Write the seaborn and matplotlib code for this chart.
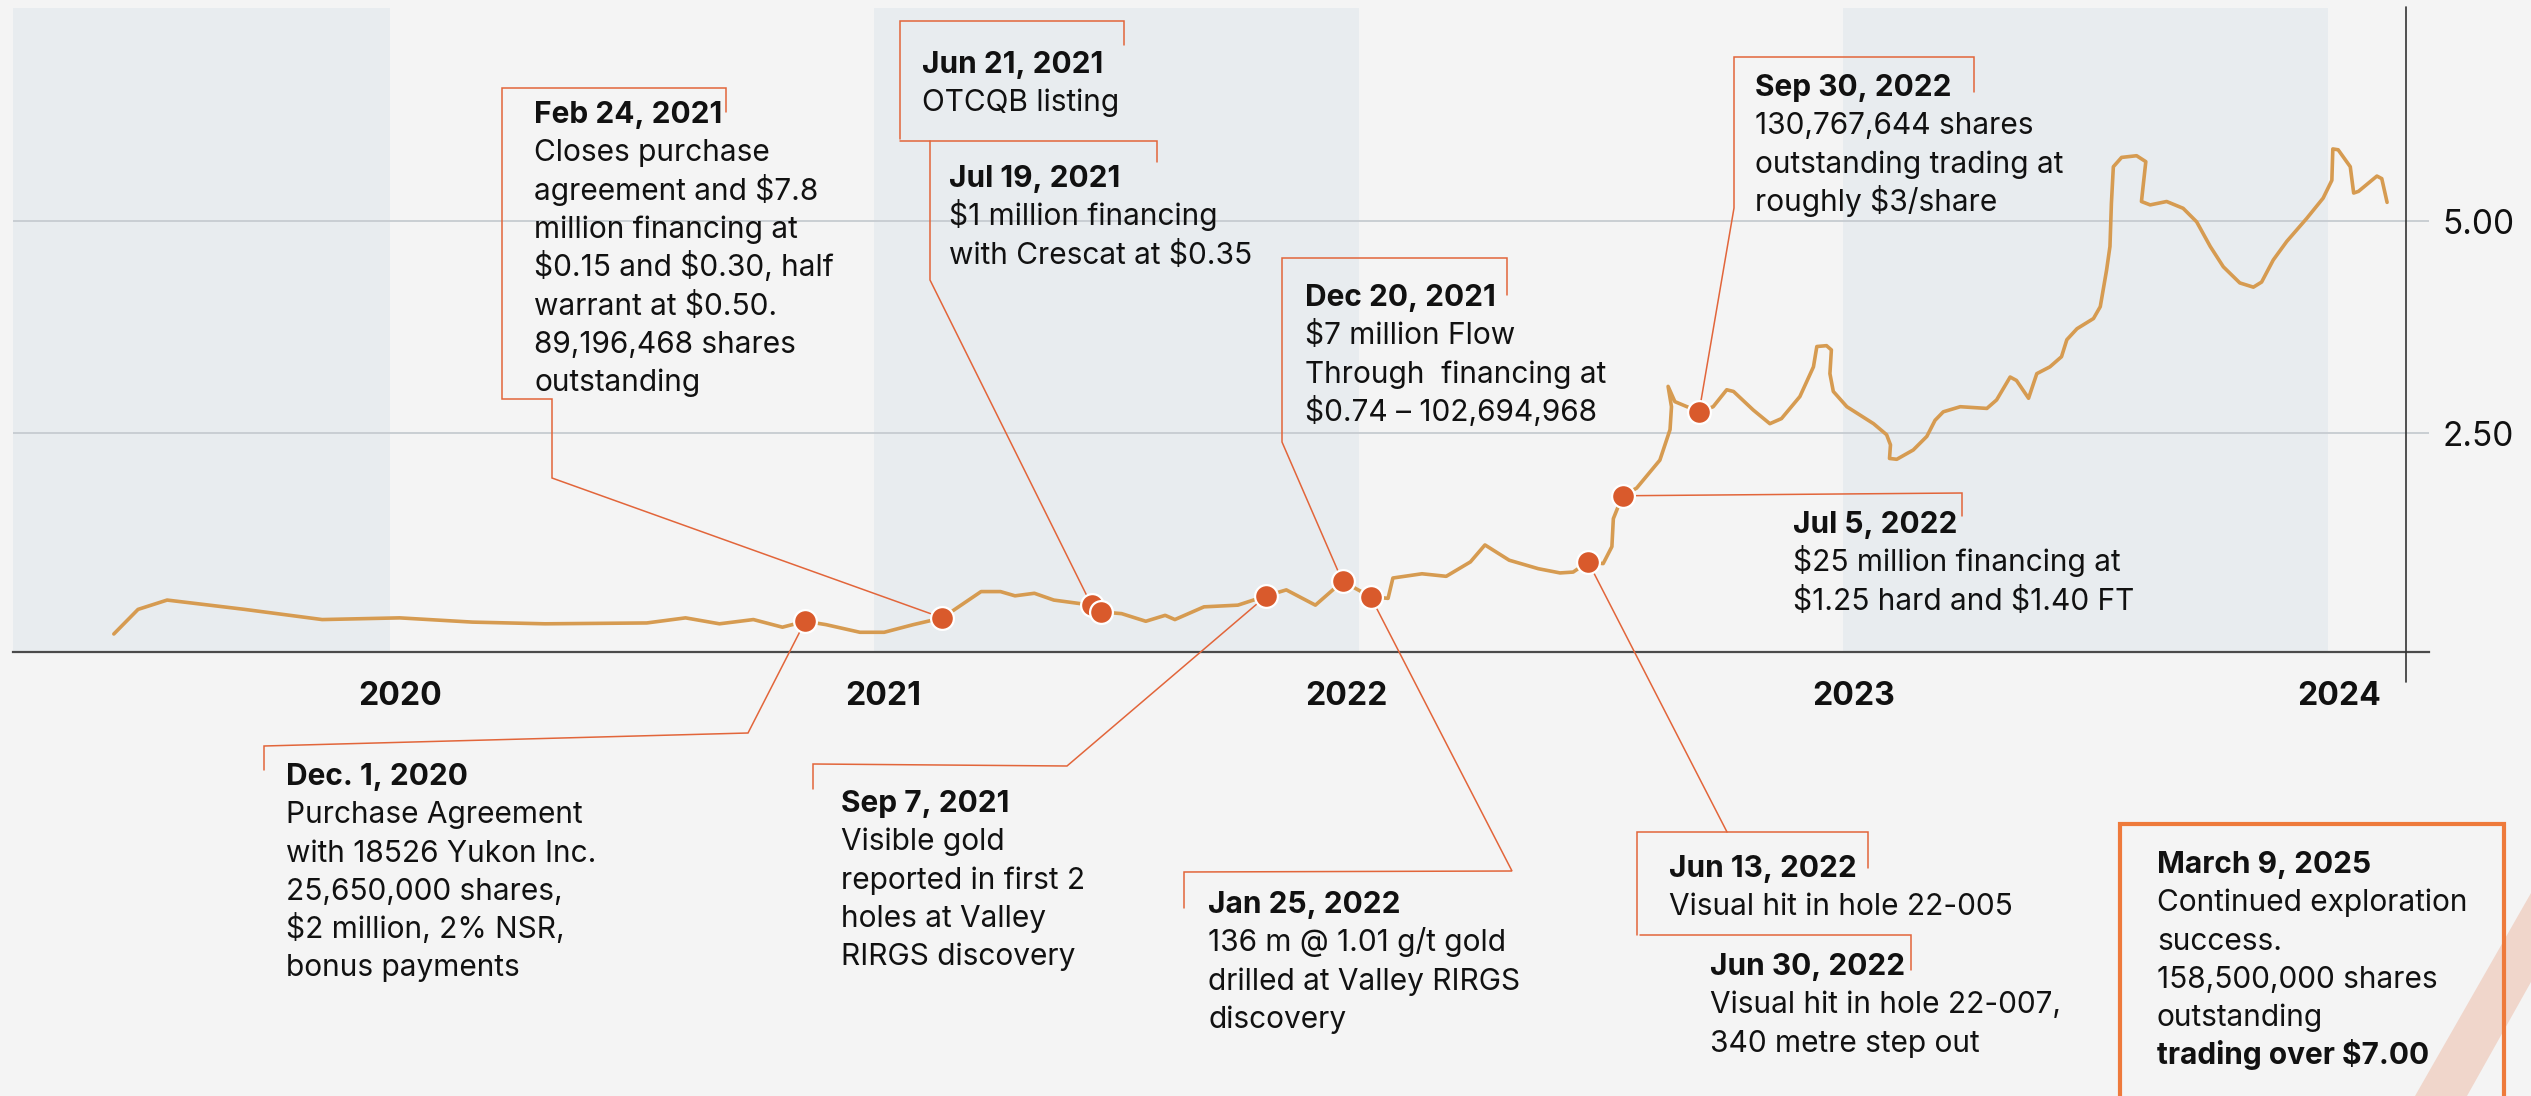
import numpy as np
import pandas as pd
import matplotlib.pyplot as plt
import seaborn as sns
from matplotlib.patches import Polygon, Rectangle
from matplotlib.transforms import ScaledTranslation

W, H = 2531, 1096

# share price trace (year fraction, price $)
price_year = [2019.43, 2019.48, 2019.54, 2019.70, 2019.86, 2020.02, 2020.17, 2020.32, 2020.53,
              2020.61, 2020.68, 2020.75, 2020.81, 2020.857, 2020.90, 2020.97, 2021.02, 2021.08,
              2021.14, 2021.22, 2021.26, 2021.29, 2021.33, 2021.37, 2021.448, 2021.468, 2021.51,
              2021.56, 2021.60, 2021.62, 2021.68, 2021.75, 2021.809, 2021.85, 2021.91, 2021.966,
              2022.024, 2022.06, 2022.07, 2022.13, 2022.18, 2022.23, 2022.26, 2022.31, 2022.37,
              2022.415, 2022.442, 2022.473, 2022.504, 2022.522, 2022.525, 2022.544, 2022.573,
              2022.621, 2022.642, 2022.645, 2022.638, 2022.652, 2022.702, 2022.731, 2022.759,
              2022.773, 2022.814, 2022.848, 2022.872, 2022.910, 2022.938, 2022.945, 2022.965,
              2022.975, 2022.972, 2022.979, 2023.007, 2023.062, 2023.089, 2023.097, 2023.095,
              2023.110, 2023.144, 2023.172, 2023.189, 2023.206, 2023.241, 2023.296, 2023.316,
              2023.344, 2023.357, 2023.382, 2023.399, 2023.426, 2023.450, 2023.461, 2023.482,
              2023.516, 2023.530, 2023.543, 2023.550, 2023.553, 2023.557, 2023.574, 2023.605,
              2023.624, 2023.619, 2023.615, 2023.633, 2023.667, 2023.701, 2023.729, 2023.757,
              2023.784, 2023.818, 2023.846, 2023.863, 2023.887, 2023.915, 2023.956, 2023.990,
              2024.008, 2024.010, 2024.021, 2024.046, 2024.053, 2024.063, 2024.101, 2024.111,
              2024.122]
price_usd = [0.13, 0.42, 0.53, 0.42, 0.30, 0.32, 0.27, 0.25, 0.26,
             0.32, 0.25, 0.30, 0.21, 0.28, 0.24, 0.15, 0.15, 0.24,
             0.32, 0.63, 0.63, 0.58, 0.61, 0.53, 0.47, 0.39, 0.37,
             0.28, 0.35, 0.30, 0.45, 0.47, 0.58, 0.65, 0.47, 0.75,
             0.57, 0.55, 0.79, 0.84, 0.81, 0.98, 1.18, 1.00, 0.90,
             0.85, 0.86, 0.98, 0.96, 1.16, 1.49, 1.76, 1.85,
             2.18, 2.54, 2.81, 3.05, 2.87, 2.75, 2.81, 3.01,
             2.99, 2.77, 2.61, 2.67, 2.93, 3.28, 3.52, 3.53,
             3.48, 3.20, 2.99, 2.81, 2.61, 2.48, 2.36, 2.20,
             2.19, 2.30, 2.46, 2.65, 2.75, 2.81, 2.79, 2.89,
             3.16, 3.12, 2.91, 3.20, 3.28, 3.40, 3.60, 3.73,
             3.85, 3.99, 4.42, 4.70, 5.21, 5.64, 5.75, 5.77,
             5.70, 5.44, 5.23, 5.19, 5.23, 5.15, 4.99, 4.70,
             4.46, 4.27, 4.22, 4.28, 4.54, 4.76, 5.03, 5.27,
             5.48, 5.85, 5.84, 5.64, 5.33, 5.35, 5.53, 5.50,
             5.22]

# events marked with a dot on the trace
event_title = ["Dec. 1, 2020", "Feb 24, 2021", "Jun 21, 2021", "Jul 19, 2021", "Sep 7, 2021",
               "Dec 20, 2021", "Jan 25, 2022", "Jun 13, 2022", "Jul 5, 2022", "Sep 30, 2022"]
event_year = [2020.857, 2021.14, 2021.448, 2021.468, 2021.809, 2021.966, 2022.024, 2022.473,
              2022.544, 2022.702]
event_price = [0.28, 0.32, 0.47, 0.39, 0.58, 0.75, 0.57, 0.98, 1.76, 2.75]

notes = {
    "Dec. 1, 2020": ["Purchase Agreement", "with 18526 Yukon Inc.", "25,650,000 shares,",
                     "$2 million, 2% NSR,", "bonus payments"],
    "Feb 24, 2021": ["Closes purchase", "agreement and $7.8", "million financing at",
                     "$0.15 and $0.30, half", "warrant at $0.50.", "89,196,468 shares",
                     "outstanding"],
    "Jun 21, 2021": ["OTCQB listing"],
    "Jul 19, 2021": ["$1 million financing", "with Crescat at $0.35"],
    "Sep 7, 2021": ["Visible gold", "reported in first 2", "holes at Valley", "RIRGS discovery"],
    "Dec 20, 2021": ["$7 million Flow", "Through  financing at", "$0.74 \u2013 102,694,968"],
    "Jan 25, 2022": ["136 m @ 1.01 g/t gold", "drilled at Valley RIRGS", "discovery"],
    "Jun 13, 2022": ["Visual hit in hole 22-005"],
    "Jun 30, 2022": ["Visual hit in hole 22-007,", "340 metre step out"],
    "Jul 5, 2022": ["$25 million financing at", "$1.25 hard and $1.40 FT"],
    "Sep 30, 2022": ["130,767,644 shares", "outstanding trading at", "roughly $3/share"],
    "March 9, 2025": ["Continued exploration", "success.", "158,500,000 shares", "outstanding",
                      "trading over $7.00"],
}

years = [2020, 2021, 2022, 2023, 2024]
half_years = [2019.5, 2020.5, 2021.5, 2022.5, 2023.5]
shaded = [(2019, 2020), (2021, 2022), (2023, 2024)]
price_ticks = [2.5, 5.0]
price_labels = ["2.50", "5.00"]

BG = "#f4f4f4"
BAND = "#e8ecef"
GOLD = "#d69b51"
DOT = "#d95a2c"
LEAD = "#e2653a"
INK = "#111111"
FS = 21.5
LS = 38.3

sns.set_style("white")
plt.rcParams["font.family"] = ["Inter", "DejaVu Sans"]

fig = plt.figure(figsize=(W / 100, H / 100), dpi=100, facecolor=BG)
ax = fig.add_axes([13 / W, (H - 652) / H, (2429 - 13) / W, (652 - 8) / H])
ax.set_facecolor(BG)
ax.set_xlim(2019.2219, 2024.2085)
ax.set_ylim(-0.0825, 7.512)

for a, b in shaded:
    ax.axvspan(a, b, color=BAND, lw=0, zorder=0.2)

ax.set_axisbelow(True)
ax.grid(axis="y", color="#c9ced3", lw=1.4)
ax.grid(axis="x", visible=False)

sns.lineplot(x=price_year, y=price_usd, ax=ax, sort=False, estimator=None, color=GOLD,
             lw=2.6, zorder=4, solid_joinstyle="round", solid_capstyle="round")

for s in ["top", "left", "right"]:
    ax.spines[s].set_visible(False)
ax.spines["bottom"].set_color("#4a4a4a")
ax.spines["bottom"].set_linewidth(1.6)

ax.set_xticks(years)
ax.set_xticklabels([str(y) for y in years], fontsize=23, fontweight="bold", color=INK)
ax.set_xticks(half_years, minor=True)
ax.tick_params(axis="x", which="major", direction="inout", length=20, width=2, color="#222222", pad=11)
ax.tick_params(axis="x", which="minor", direction="inout", length=14, width=1.2, color="#222222")
for lab, dx in zip(ax.get_xticklabels(), [10, 9, -13, 10, 11]):
    lab.set_transform(lab.get_transform() + ScaledTranslation(dx / 100, 0, fig.dpi_scale_trans))

ax.yaxis.tick_right()
ax.set_yticks(price_ticks)
ax.set_yticklabels(price_labels, fontsize=24, color=INK)
ax.tick_params(axis="y", length=0, pad=9.5)
ax.set_xlabel("")
ax.set_ylabel("")


def to_data(x, y):
    return ax.transData.inverted().transform((x, H - y))


# right hand price axis line
rx0, ry0 = to_data(2406, 7)
rx1, ry1 = to_data(2406, 682)
ax.plot([rx0, rx1], [ry0, ry1], color="#333333", lw=1.2, clip_on=False, zorder=3)


def leader(pts, dot=None, first=False):
    xy = [tuple(to_data(x, y)) for x, y in pts]
    if dot is not None:
        d = (event_year[dot], event_price[dot])
        xy = [d] + xy if first else xy + [d]
    xs, ys = zip(*xy)
    ax.plot(xs, ys, color=LEAD, lw=1.1, clip_on=False, zorder=3, solid_joinstyle="miter")


def label(x, y, title, bold_last=False):
    fig.text(x / W, 1 - y / H, title, fontsize=FS, fontweight="bold", color=INK,
             ha="left", va="baseline", parse_math=False, zorder=6)
    lines = notes[title]
    for i, s in enumerate(lines):
        w = "bold" if bold_last and i == len(lines) - 1 else "normal"
        fig.text(x / W, 1 - (y + LS * (i + 1)) / H, s, fontsize=FS, fontweight=w, color=INK,
                 ha="left", va="baseline", parse_math=False, zorder=6)


# leader lines (pixel layout), ending at the event dots
leader([(726, 112), (726, 88), (502, 88), (502, 399), (552, 399), (552, 478)], dot=1)
leader([(1124, 45), (1124, 21), (900, 21), (900, 139)])
leader([(930, 141), (930, 280)], dot=2)
leader([(900, 141), (1157, 141), (1157, 162)])
leader([(1507, 295), (1507, 258), (1282, 258), (1282, 442)], dot=5)
leader([(1974, 92), (1974, 57), (1734, 57), (1734, 208)], dot=9)
leader([(1962, 493), (1962, 516)], dot=8, first=True)
leader([(748, 733), (264, 746), (264, 770)], dot=0, first=True)
leader([(1067, 766), (813, 764), (813, 789)], dot=4, first=True)
leader([(1512, 871), (1184, 872), (1184, 908)], dot=6, first=True)
leader([(1727, 832)], dot=7, first=True)
leader([(1868, 868), (1868, 832), (1637, 832), (1637, 935)])
leader([(1640, 935), (1911, 935), (1911, 970)])

sns.scatterplot(x=event_year, y=event_price, ax=ax, s=270, color=DOT, edgecolor="white",
                linewidth=1.6, zorder=5, clip_on=False)

label(534, 123, "Feb 24, 2021")
label(922, 73, "Jun 21, 2021")
label(949, 187, "Jul 19, 2021")
label(1305, 306, "Dec 20, 2021")
label(1755, 96, "Sep 30, 2022")
label(1793, 533, "Jul 5, 2022")
label(286, 785, "Dec. 1, 2020")
label(841, 812, "Sep 7, 2021")
label(1208, 913, "Jan 25, 2022")
label(1669, 877, "Jun 13, 2022")
label(1710, 975, "Jun 30, 2022")
label(2157, 873, "March 9, 2025", bold_last=True)

# decorative stripe and highlight box in the lower right corner
stripe = Polygon([(2415 / W, 0), (2467 / W, 0), (1, 1 - 982 / H), (1, 1 - 893 / H)],
                 closed=True, transform=fig.transFigure, facecolor="#f0d6cb",
                 edgecolor="none", zorder=1)
fig.add_artist(stripe)
box = Rectangle((2120 / W, -0.02), (2504 - 2120) / W, 0.02 + (H - 824) / H,
                transform=fig.transFigure, fill=False, edgecolor="#ee7a3b", lw=3, zorder=2)
fig.add_artist(box)

fig.savefig("out.png", dpi=100, facecolor=BG)
